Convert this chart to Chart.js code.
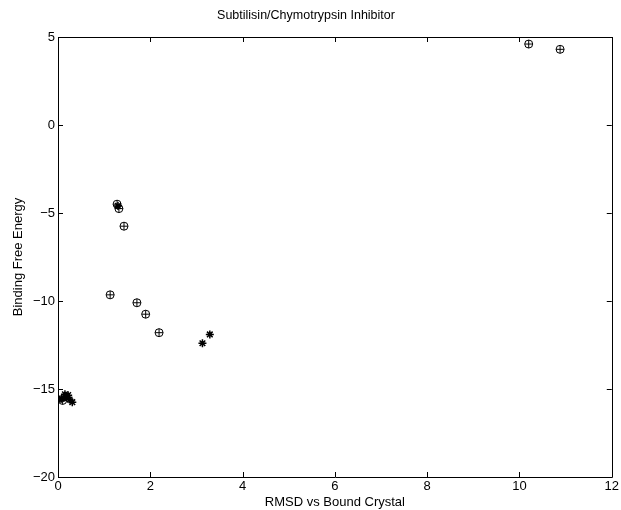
<!DOCTYPE html>
<html>
<head>
<meta charset="utf-8">
<script src="https://cdn.jsdelivr.net/npm/chart.js@4.4.0/dist/chart.umd.min.js"></script>
<style>
html,body{margin:0;padding:0;background:#fff;}
#wrap{width:621px;height:510px;}
</style>
</head>
<body>
<div id="wrap"><canvas id="c" width="621" height="510"></canvas></div>
<script>
// Data
const circleX = [10.2, 10.88, 1.28, 1.32, 1.43, 1.13, 1.71, 1.9, 2.19, 0.1];
const circleY = [4.6, 4.3, -4.5, -4.75, -5.75, -9.65, -10.1, -10.75, -11.8, -15.65];
const starX = [3.29, 3.13, 0.0, 0.15, 0.22, 0.12, 0.18, 0.31, 0.08, 0.25, 1.3];
const starY = [-11.9, -12.4, -15.6, -15.3, -15.35, -15.5, -15.45, -15.75, -15.55, -15.6, -4.6];
const xTicks = [0, 2, 4, 6, 8, 10, 12];
const yTicks = [-20, -15, -10, -5, 0, 5];
const titleText = 'Subtilisin/Chymotrypsin Inhibitor';
const xLabel = 'RMSD vs Bound Crystal';
const yLabel = 'Binding Free Energy';

const pts = (xs, ys) => xs.map((x, i) => ({x: x, y: ys[i]}));
const FONT = 'Liberation Sans, Arial, Helvetica, sans-serif';

const insideTicks = {
  id: 'insideTicks',
  afterDatasetsDraw(chart) {
    const ctx = chart.ctx, a = chart.chartArea;
    const xs = chart.scales.x, ys = chart.scales.y;
    ctx.save();
    ctx.strokeStyle = '#000';
    ctx.lineWidth = 1;
    ctx.beginPath();
    ctx.rect(Math.round(a.left) + 0.5, Math.round(a.top) + 0.5, Math.round(a.right - a.left), Math.round(a.bottom - a.top));
    xTicks.forEach(v => {
      const p = Math.round(xs.getPixelForValue(v)) + 0.5;
      ctx.moveTo(p, a.bottom); ctx.lineTo(p, a.bottom - 5);
      ctx.moveTo(p, a.top); ctx.lineTo(p, a.top + 5);
    });
    yTicks.forEach(v => {
      const p = Math.round(ys.getPixelForValue(v)) + 0.5;
      ctx.moveTo(a.left, p); ctx.lineTo(a.left + 5, p);
      ctx.moveTo(a.right, p); ctx.lineTo(a.right - 5, p);
    });
    ctx.stroke();
    ctx.restore();
  }
};

new Chart(document.getElementById('c'), {
  type: 'scatter',
  data: {
    datasets: [
      {label: 'circ', data: pts(circleX, circleY), pointStyle: 'circle', pointRadius: 4, borderColor: '#000', backgroundColor: 'rgba(0,0,0,0)', borderWidth: 1},
      {label: 'plus', data: pts(circleX, circleY), pointStyle: 'cross', pointRadius: 4, borderColor: '#000', borderWidth: 1},
      {label: 'star', data: pts(starX, starY), pointStyle: 'star', pointRadius: 4, borderColor: '#000', borderWidth: 1.5}
    ]
  },
  options: {
    responsive: false,
    animation: false,
    layout: {padding: {top: 0, right: 9, bottom: 0, left: 0}},
    plugins: {
      legend: {display: false},
      tooltip: {enabled: false},
      title: {display: true, text: titleText, color: '#000', font: {family: FONT, size: 12.5, weight: 'normal'}, padding: {top: 8, bottom: 14}}
    },
    scales: {
      x: {
        type: 'linear', min: 0, max: 12,
        afterBuildTicks: s => { s.ticks = xTicks.map(v => ({value: v})); },
        afterFit: s => { s.height = 33; },
        grid: {display: false, drawTicks: false},
        border: {display: false},
        ticks: {color: '#000', font: {family: FONT, size: 13}, padding: 2, maxRotation: 0},
        title: {display: true, text: xLabel, color: '#000', font: {family: FONT, size: 13}, padding: {top: 0, bottom: 0}}
      },
      y: {
        type: 'linear', min: -20, max: 5,
        afterBuildTicks: s => { s.ticks = yTicks.map(v => ({value: v})); },
        afterFit: s => { s.width = 58; },
        grid: {display: false, drawTicks: false},
        border: {display: false},
        ticks: {color: '#000', font: {family: FONT, size: 13}, padding: 3, callback: v => String(v).replace('-', '\u2212')},
        title: {display: true, text: yLabel, color: '#000', font: {family: FONT, size: 13}, padding: {top: 11, bottom: 4}}
      }
    }
  },
  plugins: [insideTicks]
});
</script>
</body>
</html>
